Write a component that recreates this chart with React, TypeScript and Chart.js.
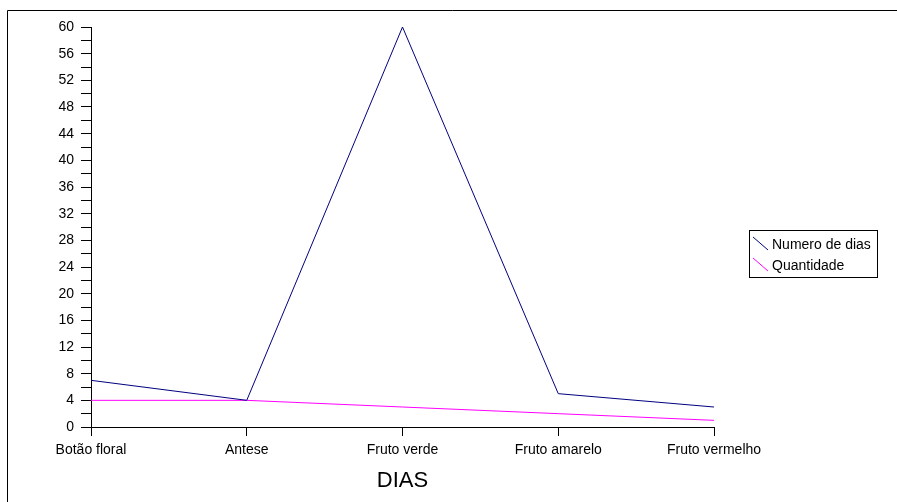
import React, { useEffect, useRef } from "react";
import { Chart, registerables } from "chart.js";

Chart.register(...registerables);

const categories = ["Botão floral", "Antese", "Fruto verde", "Fruto amarelo", "Fruto vermelho"];
const numeroDeDias = [7, 4, 60, 5, 3];
const quantidade = [4, 4, 3, 2, 1];
const seriesLabels = ["Numero de dias", "Quantidade"];
const xTitle = "DIAS";

const FONT = "'Liberation Sans', Arial, sans-serif";

const framePlugin = {
  id: "frame",
  afterDraw(chart: any) {
    const ctx = chart.ctx;
    ctx.save();
    ctx.strokeStyle = "#000";
    ctx.lineWidth = 1;
    ctx.beginPath();
    ctx.moveTo(7.5, 502);
    ctx.lineTo(7.5, 10.5);
    ctx.lineTo(897, 10.5);
    ctx.stroke();

    // legend box
    const bx = 749.5, by = 230.5, bw = 128, bh = 47;
    ctx.strokeStyle = "#000";
    ctx.strokeRect(bx, by, bw, bh);
    ctx.font = "14px " + FONT;
    ctx.textBaseline = "middle";
    ctx.textAlign = "left";
    chart.data.datasets.forEach((ds: any, i: number) => {
      const cy = 244 + i * 21;
      ctx.strokeStyle = ds.borderColor;
      ctx.beginPath();
      ctx.moveTo(753, cy - 7);
      ctx.lineTo(768, cy + 6);
      ctx.stroke();
      ctx.fillStyle = "#000";
      ctx.fillText(ds.label, 772, cy + 1);
    });
    ctx.restore();
  },
};

export default function App() {
  const ref = useRef<HTMLCanvasElement>(null);
  useEffect(() => {
    if (!ref.current) return;
    const chart = new Chart(ref.current, {
      type: "line",
      data: {
        labels: categories,
        datasets: [
          {
            label: seriesLabels[0],
            data: numeroDeDias,
            borderColor: "#000080",
            backgroundColor: "#000080",
            borderWidth: 1,
            pointRadius: 0,
            tension: 0,
          },
          {
            label: seriesLabels[1],
            data: quantidade,
            borderColor: "#ff00ff",
            backgroundColor: "#ff00ff",
            borderWidth: 1,
            pointRadius: 0,
            tension: 0,
          },
        ],
      },
      options: {
        responsive: false,
        animation: false,
        layout: { padding: { top: 27, right: 183, left: 0, bottom: 0 } },
        plugins: { legend: { display: false }, tooltip: { enabled: false } },
        scales: {
          x: {
            type: "category",
            offset: false,
            afterFit: (s: any) => {
              s.height = 75;
            },
            grid: {
              display: true,
              drawOnChartArea: false,
              drawTicks: true,
              tickLength: 9,
              color: "#000",
            },
            border: { display: true, color: "#000", width: 1 },
            ticks: {
              color: "#000",
              font: { family: FONT, size: 14 },
              padding: 6,
              maxRotation: 0,
              autoSkip: false,
            },
            title: {
              display: true,
              text: xTitle,
              color: "#000",
              font: { family: FONT, size: 22 },
              padding: { top: 0, bottom: 8 },
            },
          },
          y: {
            min: 0,
            max: 60,
            afterFit: (s: any) => {
              s.width = 91;
            },
            grid: {
              display: true,
              drawOnChartArea: false,
              drawTicks: true,
              tickLength: 10,
              color: "#000",
            },
            border: { display: true, color: "#000", width: 1 },
            ticks: {
              stepSize: 2,
              color: "#000",
              font: { family: FONT, size: 14 },
              padding: 7,
              autoSkip: false,
              callback: (v: any) => (Number(v) % 4 === 0 ? String(v) : ""),
            },
          },
        },
      },
      plugins: [framePlugin],
    });
    return () => chart.destroy();
  }, []);
  return (
    <div style={{ position: "absolute", left: 0, top: 0, width: 897, height: 502, background: "#fff" }}>
      <canvas ref={ref} width={897} height={502} style={{ display: "block" }} />
    </div>
  );
}
